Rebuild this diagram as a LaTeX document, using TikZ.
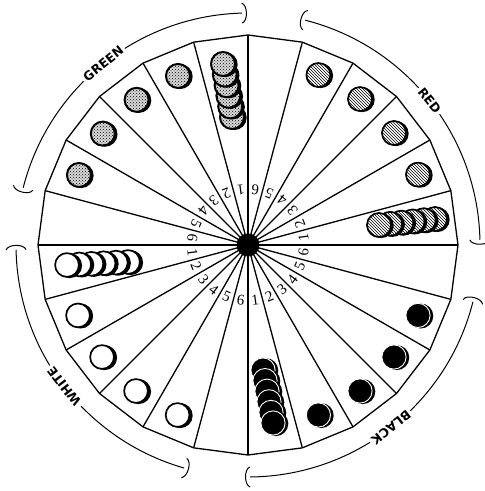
\documentclass[tikz,border=0pt]{standalone}
\usepackage{fontspec}
\setmainfont{Liberation Serif}
\newfontfamily\labfont{DejaVu Sans}
\usetikzlibrary{patterns}
\tikzset{
  gdisc/.pic={
    \fill[black] (2.2,-0.6) circle[radius=12.5];
    \fill[gray!30] (0,0) circle[radius=12.5];
    \fill[pattern=crosshatch dots] (0,0) circle[radius=12.5];
    \draw[line width=2pt] (0,0) circle[radius=12];
  },
  rdisc/.pic={
    \fill[black] (2.2,-0.6) circle[radius=12.5];
    \fill[white] (0,0) circle[radius=12.5];
    \fill[pattern=north west lines] (0,0) circle[radius=12.5];
    \draw[line width=1.7pt] (0,0) circle[radius=12];
  },
  wdisc/.pic={
    \fill[black] (2.6,-0.6) circle[radius=12.5];
    \draw[line width=1.7pt, fill=white] (0,0) circle[radius=11.9];
  },
  bdisc/.pic={
    \fill[black] (2.8,-0.6) circle[radius=12.5];
    \draw[line width=0.9pt, draw=white, fill=black] (0,0) circle[radius=12.1];
  },
}
\begin{document}
\begin{tikzpicture}[x=1pt,y=1pt, line join=round,
  spoke/.style={line width=1.3pt},
  rim/.style={line width=1.3pt},
  bracketline/.style={line width=1pt},
  digit/.style={font=\fontsize{15}{15}\selectfont, inner sep=0pt},
  colorlab/.style={font=\labfont\bfseries\fontsize{12.5}{13}\selectfont, fill=white, inner sep=2.5pt},
  hubstyle/.style={circle, fill=black, minimum size=23pt, inner sep=0pt},
]
\useasboundingbox (0,0) rectangle (485,-491);
\begin{scope}[shift={(248,-245)}]
  % outer 24-gon
  \draw[rim] (0:210) \foreach \a in {15,30,...,345} {-- (\a:210)} -- cycle;
  % spokes
  \foreach \a in {0,15,...,345} \draw[spoke] (0,0) -- (\a:210);
  \node[hubstyle] (hub) at (0,0) {};
  % digits
  \foreach \base [count=\k] in {82.5,-7.5,172.5,262.5} {
    \foreach \i in {1,...,6} {
      \pgfmathsetmacro\ang{\base+15*\i}
      \pgfmathsetmacro\rot{\ang+90}
      \node[digit, rotate=\rot] (d\k-\i) at (\ang:56) {\i};
    }
  }
  % single discs, sectors 2-5
  \foreach \i in {2,...,5} {
    \pgfmathsetmacro\ga{82.5+15*\i}
    \pgfmathsetmacro\ra{-7.5+15*\i}
    \pgfmathsetmacro\wa{172.5+15*\i}
    \pgfmathsetmacro\ba{262.5+15*\i}
    \pic at (\ga:183) {gdisc};
    \pic at (\ra:184) {rdisc};
    \pic at (\wa:184) {wdisc};
    \pic at (\ba:184) {bdisc};
  }
  % stacks
  \foreach \j in {5,4,...,0} {
    \pic at ({-25+1.8*\j},{181-10.6*\j}) {gdisc};
    \pic at ({131+11.2*\j},{20+1.2*\j}) {rdisc};
    \pic at ({-181+12.2*\j},{-20+0.6*\j}) {wdisc};
  }
  \foreach \j in {0,...,5} {
    \pic at ({15+2*\j},{-125-10.6*\j}) {bdisc};
  }
  % outer bracket arcs
  \foreach \s/\e in {91.5/165.7, 1.3/75.7, 181.2/254, 270.5/345.8} {
    \draw[bracketline] (\s:232) arc[start angle=\s, end angle=\e, radius=232];
    \begin{scope}[rotate=\s]
      \draw[bracketline] (242,0) .. controls (240,-6) and (224,-6) .. (222,0);
    \end{scope}
    \begin{scope}[rotate=\e]
      \draw[bracketline] (242,0) .. controls (240,6) and (224,6) .. (222,0);
    \end{scope}
  }
  \node[colorlab, rotate=38.6] (lgreen) at (128.6:232) {GREEN};
  \node[colorlab, rotate=-51.5] (lred) at (38.5:232) {RED};
  \node[colorlab, rotate=127.6] (lwhite) at (217.6:232) {WHITE};
  \node[colorlab, rotate=218.1] (lblack) at (308.1:232) {BLACK};
\end{scope}
\end{tikzpicture}
\end{document}
